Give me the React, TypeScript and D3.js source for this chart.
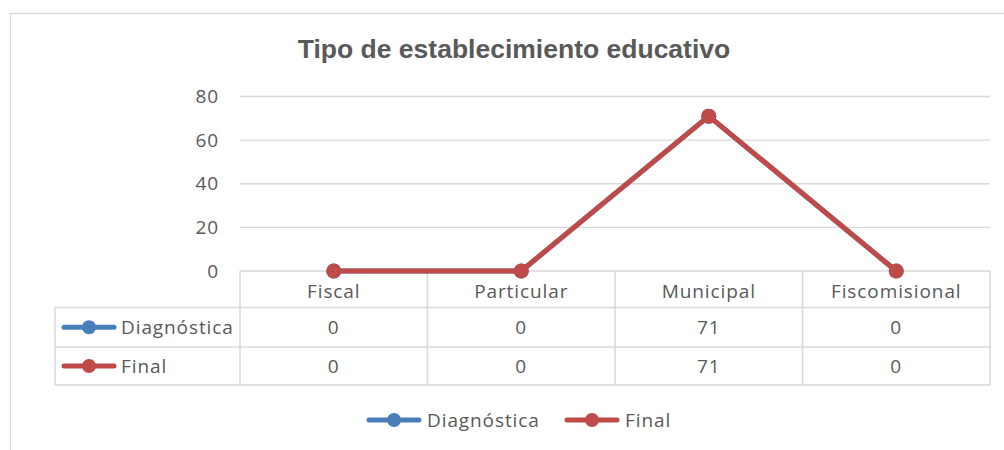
import React, { useEffect, useRef } from 'react';
import * as d3 from 'd3';

const categories = ['Fiscal', 'Particular', 'Municipal', 'Fiscomisional'];
const diagnostica = [0, 0, 71, 0];
const finalValues = [0, 0, 71, 0];
const yTicks = [0, 20, 40, 60, 80];

const series = [
  { name: 'Diagnóstica', values: diagnostica, color: '#4A7EBB' },
  { name: 'Final', values: finalValues, color: '#BE4B48' }
];

const WIDTH = 1004;
const HEIGHT = 450;
const TEXT = '#595959';
const GRID = '#D9D9D9';
const FONT = '"Open Sans", Lato, sans-serif';
const FONT_SIZE = 19;
const SPACING = 0.9;

const App: React.FC = () => {
  const svgRef = useRef<SVGSVGElement>(null);

  useEffect(() => {
    if (!svgRef.current) return;
    const svg = d3.select(svgRef.current);
    svg.selectAll('*').remove();

    const plotLeft = 240;
    const plotRight = 990;
    const tableLeft = 55;

    const x = d3.scaleBand<string>()
      .domain(categories)
      .range([plotLeft, plotRight]);

    const y = d3.scaleLinear()
      .domain([0, 80])
      .range([271, 96.5]);

    const label = (sel: any) => sel
      .attr('font-family', FONT)
      .attr('font-size', FONT_SIZE)
      .attr('letter-spacing', SPACING)
      .attr('fill', TEXT);

    // outer chart border (runs off the right edge)
    svg.append('rect')
      .attr('x', 10.5)
      .attr('y', 13.5)
      .attr('width', 1100)
      .attr('height', 600)
      .attr('fill', 'white')
      .attr('stroke', GRID)
      .attr('stroke-width', 1.3);

    // title
    svg.append('text')
      .attr('x', 514)
      .attr('y', 58)
      .attr('text-anchor', 'middle')
      .attr('font-family', '"Liberation Sans", Arial, sans-serif')
      .attr('font-weight', 'bold')
      .attr('font-size', 26.5)
      .attr('fill', TEXT)
      .text('Tipo de establecimiento educativo');

    // gridlines
    svg.append('g')
      .selectAll('line')
      .data(yTicks.filter(t => t > 0))
      .enter()
      .append('line')
      .attr('x1', plotLeft)
      .attr('x2', plotRight)
      .attr('y1', d => y(d))
      .attr('y2', d => y(d))
      .attr('stroke', GRID)
      .attr('stroke-width', 1.3);

    // y axis labels
    svg.append('g')
      .selectAll('text')
      .data(yTicks)
      .enter()
      .append('text')
      .attr('x', 219)
      .attr('y', d => y(d))
      .attr('dy', '0.35em')
      .attr('text-anchor', 'end')
      .call(label)
      .text(d => d);

    // data table
    const rowTop = [271, 307.5, 347];
    const rowBottom = 385;
    const table = svg.append('g')
      .attr('stroke', GRID)
      .attr('stroke-width', 1.5)
      .attr('fill', 'none');

    table.append('line').attr('x1', plotLeft).attr('x2', plotRight).attr('y1', rowTop[0]).attr('y2', rowTop[0]);
    [rowTop[1], rowTop[2], rowBottom].forEach(yy => {
      table.append('line').attr('x1', tableLeft).attr('x2', plotRight).attr('y1', yy).attr('y2', yy);
    });
    table.append('line').attr('x1', tableLeft).attr('x2', tableLeft).attr('y1', rowTop[1]).attr('y2', rowBottom);
    categories.forEach(c => {
      table.append('line')
        .attr('x1', x(c)!)
        .attr('x2', x(c)!)
        .attr('y1', rowTop[0])
        .attr('y2', rowBottom);
    });
    table.append('line').attr('x1', plotRight).attr('x2', plotRight).attr('y1', rowTop[0]).attr('y2', rowBottom);

    // category labels
    svg.append('g')
      .selectAll('text')
      .data(categories)
      .enter()
      .append('text')
      .attr('x', d => x(d)! + x.bandwidth() / 2)
      .attr('y', (rowTop[0] + rowTop[1]) / 2 + 2)
      .attr('dy', '0.35em')
      .attr('text-anchor', 'middle')
      .call(label)
      .text(d => d);

    const legendKey = (g: d3.Selection<SVGGElement, unknown, null, undefined>, cx: number, cy: number, color: string) => {
      g.append('line')
        .attr('x1', cx - 25)
        .attr('x2', cx + 25)
        .attr('y1', cy)
        .attr('y2', cy)
        .attr('stroke', color)
        .attr('stroke-width', 5)
        .attr('stroke-linecap', 'round');
      g.append('circle')
        .attr('cx', cx)
        .attr('cy', cy)
        .attr('r', 7)
        .attr('fill', color);
    };

    // table value rows
    series.forEach((s, i) => {
      const cy = (rowTop[i + 1] + (i === 0 ? rowTop[2] : rowBottom)) / 2;
      const row = svg.append('g');
      legendKey(row, 89, cy, s.color);
      row.append('text')
        .attr('x', 121)
        .attr('y', cy)
        .attr('dy', '0.35em')
        .call(label)
        .text(s.name);
      row.selectAll('text.val')
        .data(s.values)
        .enter()
        .append('text')
        .attr('class', 'val')
        .attr('x', (_, j) => x(categories[j])! + x.bandwidth() / 2)
        .attr('y', cy)
        .attr('dy', '0.35em')
        .attr('text-anchor', 'middle')
        .call(label)
        .text(d => d);
    });

    // lines and markers
    const line = d3.line<number>()
      .x((_, j) => x(categories[j])! + x.bandwidth() / 2)
      .y(d => y(d));

    series.forEach(s => {
      svg.append('path')
        .datum(s.values)
        .attr('fill', 'none')
        .attr('stroke', s.color)
        .attr('stroke-width', 5)
        .attr('stroke-linejoin', 'round')
        .attr('d', line);
      svg.append('g')
        .selectAll('circle')
        .data(s.values)
        .enter()
        .append('circle')
        .attr('cx', (_, j) => x(categories[j])! + x.bandwidth() / 2)
        .attr('cy', d => y(d))
        .attr('r', 7.5)
        .attr('fill', s.color);
    });

    // bottom legend
    const legendY = 420;
    const legendPos = [394, 592];
    series.forEach((s, i) => {
      const g = svg.append('g');
      legendKey(g, legendPos[i], legendY, s.color);
      g.append('text')
        .attr('x', legendPos[i] + 33)
        .attr('y', legendY)
        .attr('dy', '0.35em')
        .call(label)
        .text(s.name);
    });
  }, []);

  return (
    <svg
      ref={svgRef}
      width={WIDTH}
      height={HEIGHT}
      style={{ position: 'absolute', left: 0, top: 0, background: 'white' }}
    />
  );
};

export default App;
